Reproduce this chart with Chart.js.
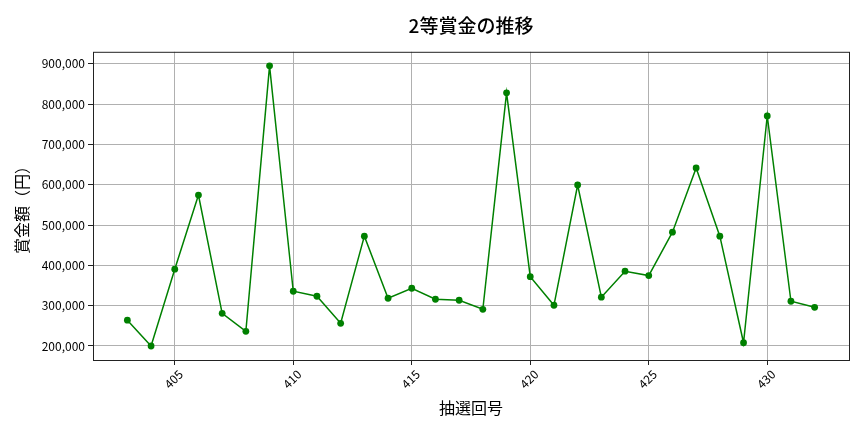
<!DOCTYPE html>
<html>
<head>
<meta charset="utf-8">
<script src="https://cdn.jsdelivr.net/npm/chart.js@4/dist/chart.umd.min.js"></script>
<style>
  html, body { margin: 0; padding: 0; background: #fff; }
  #wrap { width: 864px; height: 432px; }
</style>
</head>
<body>
<div id="wrap"><canvas id="prize-chart" width="864" height="432"></canvas></div>
<script>
// ---- data ----
const drawNumbers = [403, 404, 405, 406, 407, 408, 409, 410, 411, 412,
                     413, 414, 415, 416, 417, 418, 419, 420, 421, 422,
                     423, 424, 425, 426, 427, 428, 429, 430, 431, 432];
const prizeValues = [264000, 200000, 390500, 574400, 281000, 236400, 895000, 335800, 323400, 256300,
                     472500, 318400, 343200, 315900, 313400, 291000, 828000, 372000, 301000, 599300,
                     321000, 385500, 374700, 482400, 641500, 472500, 208000, 770800, 311000, 296000];
const xTickValues = [405, 410, 415, 420, 425, 430];
const yTickValues = [200000, 300000, 400000, 500000, 600000, 700000, 800000, 900000];

const FONT = "'Noto Sans CJK JP', 'Noto Sans', sans-serif";

// matplotlib-style frame around the plot area
const framePlugin = {
  id: 'frame',
  afterDraw(chart) {
    const { ctx, chartArea: a } = chart;
    ctx.save();
    ctx.strokeStyle = '#222';
    ctx.lineWidth = 1;
    ctx.strokeRect(a.left + 0.5, a.top + 0.5, a.right - a.left, a.bottom - a.top);
    ctx.restore();
  }
};

new Chart(document.getElementById('prize-chart'), {
  type: 'line',
  data: {
    datasets: [{
      label: '2等賞金',
      data: drawNumbers.map((n, i) => ({ x: n, y: prizeValues[i] })),
      borderColor: '#008000',
      backgroundColor: '#008000',
      borderWidth: 1.5,
      pointRadius: 3.4,
      pointHoverRadius: 3.4,
      pointBorderWidth: 0,
      tension: 0,
    }]
  },
  plugins: [framePlugin],
  options: {
    responsive: false,
    animation: false,
    devicePixelRatio: 1,
    layout: { padding: { left: 0, right: 15, top: 0, bottom: 0 } },
    plugins: {
      legend: { display: false },
      tooltip: { enabled: false },
      title: {
        display: true,
        fullSize: false,
        text: '2等賞金の推移',
        color: '#000',
        font: { family: FONT, size: 19, weight: 500 },
        padding: { top: 14, bottom: 15 },
      },
    },
    scales: {
      x: {
        type: 'linear',
        min: 401.55,
        max: 433.45,
        afterBuildTicks: (scale) => { scale.ticks = xTickValues.map(v => ({ value: v })); },
        afterFit: (scale) => { scale.height = 72; },
        ticks: {
          color: '#000',
          font: { family: FONT, size: 12 },
          autoSkip: false,
          minRotation: 45,
          maxRotation: 45,
          padding: 2,
          labelOffset: 6,
          callback: (v) => String(v),
        },
        grid: { color: '#b0b0b0', lineWidth: 1, tickLength: 5, tickColor: '#222' },
        border: { display: false },
        title: {
          display: true,
          text: '抽選回号',
          color: '#000',
          font: { family: FONT, size: 16 },
          padding: { top: 0, bottom: 14 },
        },
      },
      y: {
        min: 165250,
        max: 929750,
        afterBuildTicks: (scale) => { scale.ticks = yTickValues.map(v => ({ value: v })); },
        afterFit: (scale) => { scale.width = 93; },
        ticks: {
          color: '#000',
          font: { family: FONT, size: 12 },
          padding: 3,
          callback: (v) => v.toLocaleString('en-US'),
        },
        grid: { color: '#b0b0b0', lineWidth: 1, tickLength: 5, tickColor: '#222' },
        border: { display: false },
        title: {
          display: true,
          text: '賞金額（円）',
          color: '#000',
          font: { family: FONT, size: 16 },
          padding: { top: 12, bottom: 0 },
        },
      }
    }
  }
});
</script>
</body>
</html>
